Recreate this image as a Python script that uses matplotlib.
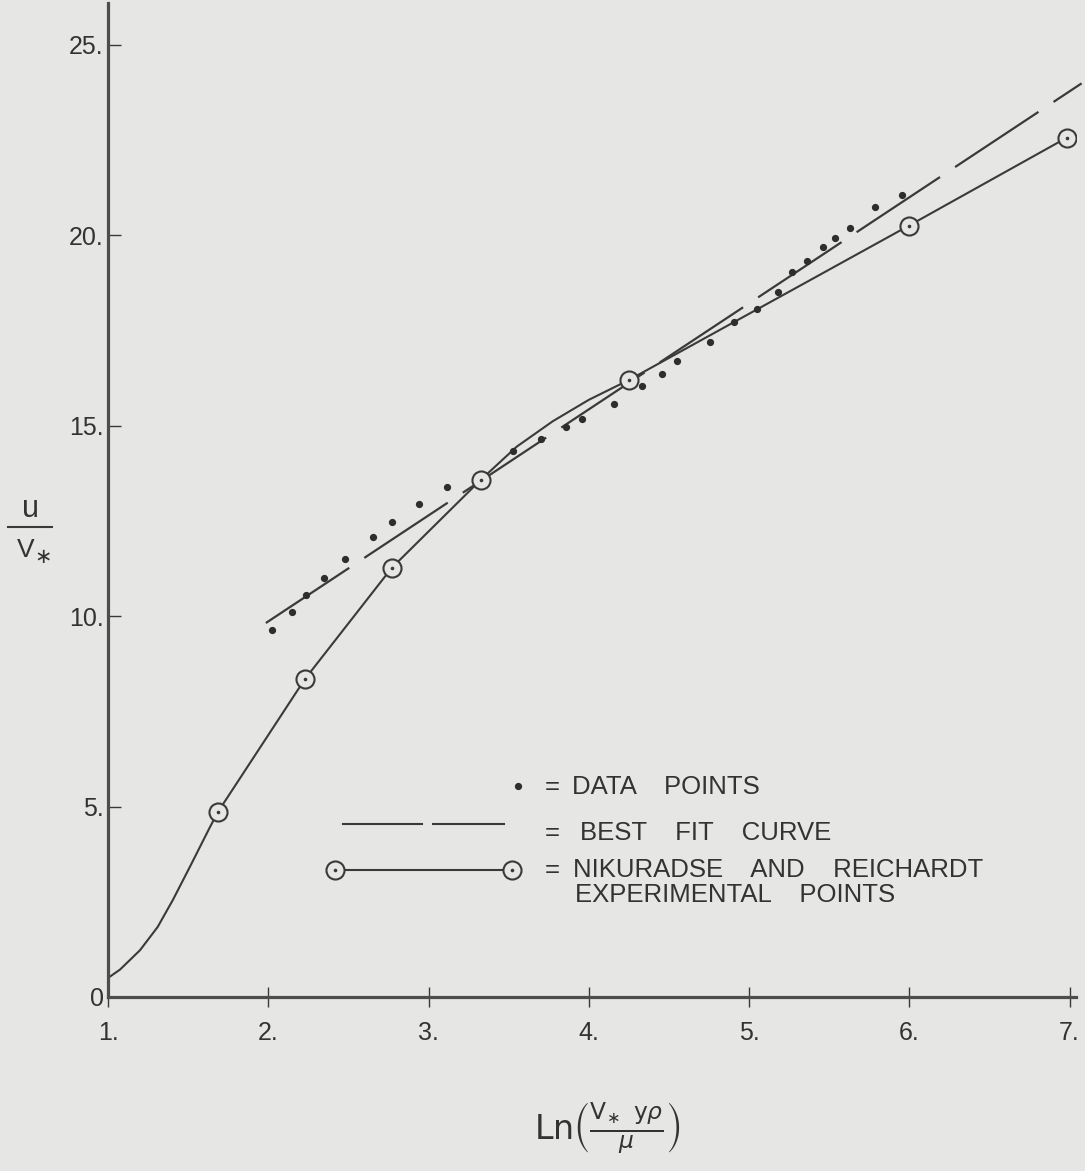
import matplotlib
matplotlib.use('Agg')
import matplotlib.pyplot as plt
from matplotlib.lines import Line2D
from matplotlib import font_manager

# ---------------- data ----------------
dots_x = [2.023, 2.148, 2.235, 2.347, 2.478, 2.653, 2.771, 2.940, 3.114,
          3.526, 3.701, 3.857, 3.956, 4.156, 4.331, 4.455, 4.549, 4.755,
          4.904, 5.048, 5.179, 5.266, 5.360, 5.460, 5.534, 5.628, 5.784, 5.952]
dots_y = [9.64, 10.11, 10.56, 11.00, 11.50, 12.08, 12.47, 12.95, 13.39,
          14.34, 14.65, 14.97, 15.18, 15.57, 16.05, 16.36, 16.70, 17.20,
          17.73, 18.07, 18.51, 19.04, 19.33, 19.70, 19.93, 20.19, 20.75, 21.06]

# Nikuradse & Reichardt experimental points (circles)
nik_x = [1.686, 2.229, 2.771, 3.326, 4.250, 5.996, 6.981]
nik_y = [4.86, 8.35, 11.27, 13.58, 16.20, 20.25, 22.56]

# traced course of the Nikuradse curve (lead-in near the wall + points)
curve_x = [1.000, 1.075, 1.200, 1.310, 1.405, 1.510, 1.636, 1.686, 2.229,
           2.771, 3.326, 3.550, 3.776, 4.000, 4.250, 5.996, 6.981]
curve_y = [0.50, 0.72, 1.23, 1.84, 2.55, 3.41, 4.46, 4.86, 8.35,
           11.27, 13.58, 14.45, 15.12, 15.68, 16.20, 20.25, 22.56]

# best fit straight line (end points)
fit_x = [1.985, 7.075]
fit_y = [9.82, 23.99]

xticks = [1, 2, 3, 4, 5, 6, 7]
xtick_labels = ['1.', '2.', '3.', '4.', '5.', '6.', '7.']
yticks = [0, 5, 10, 15, 20, 25]
ytick_labels = ['0', '5.', '10.', '15.', '20.', '25.']

legend_labels = ['DATA    POINTS', 'BEST    FIT    CURVE',
                 'NIKURADSE    AND    REICHARDT', 'EXPERIMENTAL    POINTS']

# ---------------- style ----------------
names = {f.name for f in font_manager.fontManager.ttflist}
NARROW = 'Liberation Sans Narrow' if 'Liberation Sans Narrow' in names else 'Liberation Sans'
NARROW_SIZE = 20 if NARROW == 'Liberation Sans Narrow' else 18.5
DIGITS = 'Liberation Sans'

plt.rcParams['font.family'] = [DIGITS, 'DejaVu Sans']
plt.rcParams['mathtext.fontset'] = 'dejavusans'

BG = '#e6e6e4'
INK = '#3a3a3a'
TXT = '#333333'
W, H = 1085, 1171

fig = plt.figure(figsize=(W / 100, H / 100), dpi=100, facecolor=BG)
ax = fig.add_axes([108 / W, (H - 997) / H, 968 / W, 994 / H])
ax.set_facecolor(BG)
ax.set_xlim(1, 7.04)
ax.set_ylim(0, 26.1)

for s in ['top', 'right']:
    ax.spines[s].set_visible(False)
for s in ['left', 'bottom']:
    ax.spines[s].set_linewidth(2.3)
    ax.spines[s].set_color('#4d4d4d')

ax.set_xticks(xticks)
ax.set_xticklabels(xtick_labels)
ax.set_yticks(yticks)
ax.set_yticklabels(ytick_labels)
ax.tick_params(axis='x', direction='inout', length=14, width=1.0, colors=INK,
               pad=10, labelsize=18)
ax.tick_params(axis='y', direction='in', length=9, width=1.0, colors=INK,
               pad=3, labelsize=18)
for lab in ax.get_xticklabels() + ax.get_yticklabels():
    lab.set_color(TXT)

# Nikuradse curve and circles
ax.plot(curve_x, curve_y, color=INK, lw=1.5, zorder=2,
        solid_joinstyle='round')
ax.plot(nik_x, nik_y, linestyle='none', marker='o', markersize=13,
        markerfacecolor=BG, markeredgecolor=INK, markeredgewidth=1.5, zorder=3)
ax.plot(nik_x, nik_y, linestyle='none', marker='o', markersize=1.6,
        color=INK, zorder=4)

# best fit line (long dashes)
lw_fit = 1.6
ax.plot(fit_x, fit_y, color=INK, lw=lw_fit, clip_on=False, zorder=2,
        linestyle=(0, (72 / lw_fit, 13 / lw_fit)), dash_capstyle='butt')

# data points
ax.plot(dots_x, dots_y, linestyle='none', marker='o', markersize=4.2,
        color='#2e2e2e', zorder=5)


# ---------------- hand-drawn legend ----------------
def fx(px):
    return px / W


def fy(py):
    return 1 - py / H


fig.add_artist(Line2D([fx(518)], [fy(786)], marker='o', markersize=4.2,
                      color='#2e2e2e', linestyle='none'))
fig.add_artist(Line2D([fx(343), fx(422)], [fy(824), fy(824)], color=INK, lw=1.5))
fig.add_artist(Line2D([fx(433), fx(504)], [fy(824), fy(824)], color=INK, lw=1.5))
fig.add_artist(Line2D([fx(344), fx(503)], [fy(870), fy(870)], color=INK, lw=1.5))
for cx in (335, 512):
    fig.add_artist(Line2D([fx(cx)], [fy(870)], marker='o', markersize=13,
                          markerfacecolor=BG, markeredgecolor=INK,
                          markeredgewidth=1.5, linestyle='none'))
    fig.add_artist(Line2D([fx(cx)], [fy(870)], marker='o', markersize=1.6,
                          color=INK, linestyle='none'))

rows = [(787, 572, legend_labels[0], True),
        (833, 580, legend_labels[1], True),
        (870, 573, legend_labels[2], True),
        (895, 575, legend_labels[3], False)]
for py, px, txt, eq in rows:
    if eq:
        fig.text(fx(545), fy(py), '=', ha='left', va='center',
                 fontsize=NARROW_SIZE, family=[NARROW, 'DejaVu Sans'], color=TXT)
    fig.text(fx(px), fy(py), txt, ha='left', va='center',
             fontsize=NARROW_SIZE, family=[NARROW, 'DejaVu Sans'], color=TXT)

# ---------------- axis labels ----------------
# y label: u over V*
fig.text(fx(30), fy(509), 'u', ha='center', va='center', fontsize=22,
         family=[DIGITS, 'DejaVu Sans'], color=TXT)
fig.add_artist(Line2D([fx(8), fx(52)], [fy(527), fy(527)], color=INK, lw=1.5))
fig.text(fx(26), fy(550), 'V', ha='center', va='center', fontsize=19,
         family=[DIGITS, 'DejaVu Sans'], color=TXT)
fig.text(fx(43), fy(557), '\u2217', ha='center', va='center', fontsize=15,
         family=['DejaVu Sans'], color=TXT)

# x label
fig.text(fx(608), fy(1128),
         r'$\mathsf{Ln}\left(\frac{\mathsf{V}_{\ast}\;\;\mathsf{y}\rho}{\mu}\right)$',
         ha='center', va='center', fontsize=24, color=TXT)

fig.savefig('out.png', dpi=100, facecolor=BG)
